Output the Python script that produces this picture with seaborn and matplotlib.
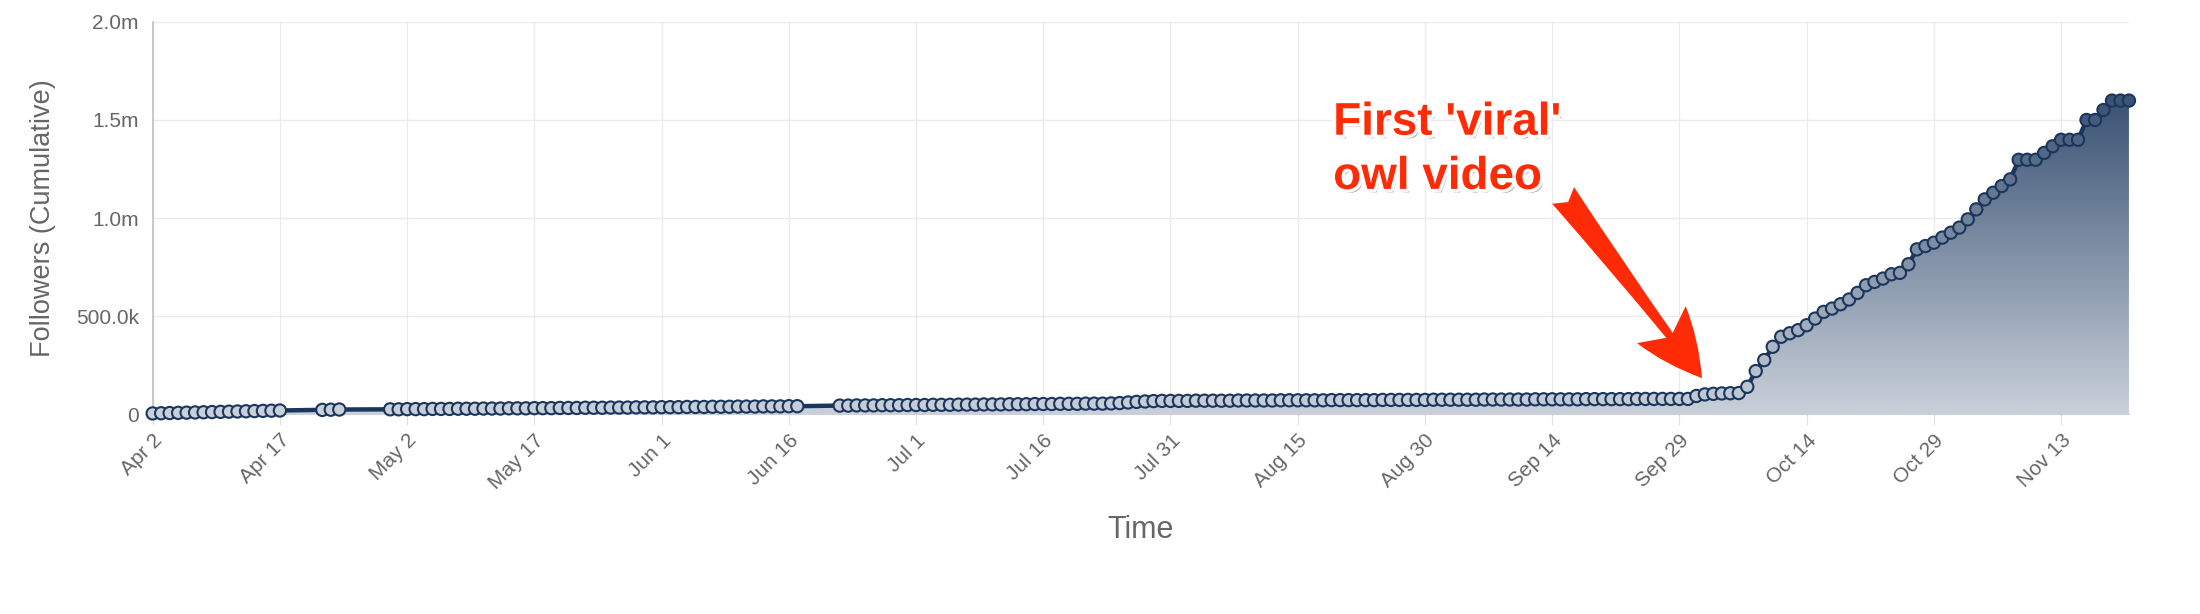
import pandas as pd
import numpy as np
import matplotlib
matplotlib.use("Agg")
import matplotlib.pyplot as plt
import matplotlib.dates as mdates
import matplotlib.patheffects as pe
from matplotlib.colors import LinearSegmentedColormap
from matplotlib.ticker import FuncFormatter
import seaborn as sns

# cumulative followers (thousands), in runs of consecutive days (gaps = no data)
start_a = "2015-04-02"
followers_a = [3, 4, 5, 6, 7, 8, 9, 10, 11, 12, 13, 14, 15, 16, 17, 18]

start_b = "2015-04-22"
followers_b = [21, 22, 23]

start_c = "2015-04-30"
followers_c = [24, 24, 25, 25, 25, 26, 26, 26, 27, 27,
               27, 28, 28, 28, 29, 29, 29, 30, 30, 30,
               31, 31, 31, 32, 32, 32, 33, 33, 33, 34,
               34, 34, 35, 35, 35, 36, 36, 36, 37, 37,
               37, 38, 38, 38, 39, 39, 39, 40, 40]

start_d = "2015-06-22"
followers_d = [43, 43, 44, 44, 44, 45, 45, 45, 46, 46,
               46, 47, 47, 47, 48, 48, 48, 49, 49, 49,
               50, 50, 50, 51, 51, 51, 52, 52, 52, 53,
               53, 53, 54,
               56, 59, 62, 64, 66,
               67, 67, 67, 67, 68, 68, 68, 68, 68, 69,
               69, 69, 69, 69, 70, 70, 70, 70, 70, 70,
               71, 71, 71, 71, 71, 71, 72, 72, 72, 72,
               72, 72, 73, 73, 73, 73, 73, 73, 74, 74,
               74, 74, 74, 74, 75, 75, 75, 75, 75, 75,
               76, 76, 76, 76, 76, 76, 77, 77, 77, 77,
               77, 77,
               77,
               92, 100, 103, 105, 106, 107,
               139, 219, 275, 343, 394, 412, 428, 453, 487, 521,
               538, 560, 584, 618, 657, 674, 691, 713, 720, 764,
               840, 857, 874, 900, 925, 951, 993, 1044, 1095, 1129,
               1163, 1197, 1297, 1297, 1297, 1332, 1366, 1399, 1399, 1399,
               1500, 1500, 1551, 1599, 1599, 1599]

tick_dates = ["2015-04-02", "2015-04-17", "2015-05-02", "2015-05-17", "2015-06-01",
              "2015-06-16", "2015-07-01", "2015-07-16", "2015-07-31", "2015-08-15",
              "2015-08-30", "2015-09-14", "2015-09-29", "2015-10-14", "2015-10-29",
              "2015-11-13"]
y_ticks = [0, 500000, 1000000, 1500000, 2000000]

partes = []
for inicio, vals in [(start_a, followers_a), (start_b, followers_b),
                     (start_c, followers_c), (start_d, followers_d)]:
    partes.append(pd.DataFrame({"date": pd.date_range(inicio, periods=len(vals), freq="D"),
                                "followers": np.array(vals) * 1000}))
df = pd.concat(partes, ignore_index=True)

sns.set_style("white")
plt.rcParams["font.family"] = ["Liberation Sans", "DejaVu Sans"]

navy = "#1b365d"
cmap = LinearSegmentedColormap.from_list("area", ["#c9d0da", "#3b5374"])
ymax = df["followers"].max()

fig = plt.figure(figsize=(22, 6.14), dpi=100)
ax = fig.add_axes([0.0694, 0.3257, 0.8983, 0.6385])

sns.lineplot(data=df, x="date", y="followers", color=navy, linewidth=3.2, ax=ax, zorder=3)

# gradient area under the line
area = ax.fill_between(df["date"], df["followers"], 0, facecolor="none", edgecolor="none")
x0 = mdates.date2num(df["date"].iloc[0])
x1 = mdates.date2num(df["date"].iloc[-1])
grad = np.linspace(0, 1, 256).reshape(-1, 1)
im = ax.imshow(grad, extent=[x0, x1, 0, ymax], origin="lower", aspect="auto",
               cmap=cmap, zorder=1)
im.set_clip_path(area.get_paths()[0], ax.transData)

sns.scatterplot(data=df, x="date", y="followers", hue="followers", palette=cmap,
                hue_norm=(0, ymax), s=78, edgecolor=navy, linewidth=1.5,
                legend=False, zorder=4, ax=ax, clip_on=False)

ax.set_xlim(df["date"].iloc[0], df["date"].iloc[-1])
ax.set_ylim(0, 2000000)

ax.set_xticks(pd.to_datetime(tick_dates))
ax.xaxis.set_major_formatter(FuncFormatter(
    lambda v, p: f"{mdates.num2date(v):%b} {mdates.num2date(v).day}"))
ax.set_yticks(y_ticks)
ax.yaxis.set_major_formatter(FuncFormatter(
    lambda v, p: "0" if v == 0 else (f"{v/1e6:.1f}m" if v >= 1e6 else f"{v/1e3:.1f}k")))

plt.setp(ax.get_xticklabels(), rotation=45, ha="right", rotation_mode="anchor")
ax.tick_params(axis="x", labelsize=15, labelcolor="#666666", length=8,
               color="#e0e0e0", pad=4, direction="out", bottom=True)
ax.tick_params(axis="y", labelsize=15, labelcolor="#666666", length=0, pad=10)

ax.grid(True, color="#ebebeb", linewidth=1)
for s in ["top", "right"]:
    ax.spines[s].set_visible(False)
ax.spines["left"].set_color("#c0c0c0")
ax.spines["bottom"].set_color("#ccd0d8")
ax.spines["left"].set_linewidth(1.2)

ax.set_xlabel("Time", fontsize=22, color="#666666", labelpad=16)
ax.set_ylabel("Followers (Cumulative)", fontsize=19.5, color="#666666", labelpad=14)

# annotation
fig.text(0.606, 0.756, "First 'viral'\nowl video", fontsize=33, fontweight="bold",
         color="#ff2b06", ha="left", va="center", linespacing=1.3,
         path_effects=[pe.SimplePatchShadow(offset=(2, -2.5), shadow_rgbFace="#777777", alpha=0.7),
                       pe.Stroke(linewidth=5, foreground="white"), pe.Normal()])
ax.annotate("", xy=(pd.Timestamp("2015-10-01 16:00"), 183000),
            xytext=(pd.Timestamp("2015-09-15 07:00"), 1115000),
            arrowprops=dict(arrowstyle="fancy,head_length=1.1,head_width=1.0,tail_width=0.45",
                            fc="#ff2b06", ec="none", mutation_scale=44,
                            shrinkA=0, shrinkB=0), zorder=5)

fig.savefig("out.png", dpi=100)
